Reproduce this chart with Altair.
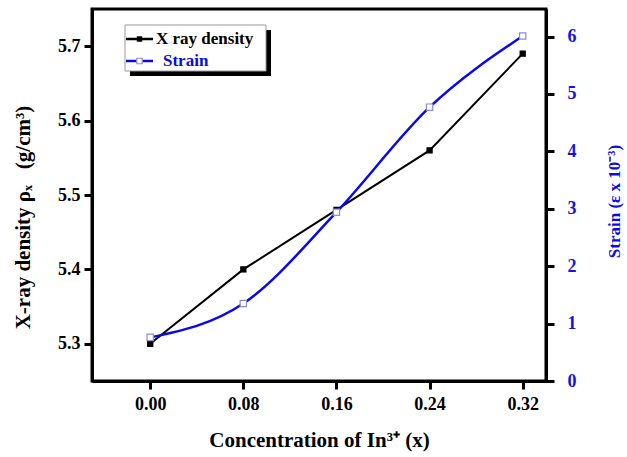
import altair as alt
import pandas as pd

conc = [0.00, 0.08, 0.16, 0.24, 0.32]
density = [5.30, 5.40, 5.48, 5.56, 5.69]
strain = [0.76, 1.35, 2.94, 4.77, 6.01]

x_ticks = [0.00, 0.08, 0.16, 0.24, 0.32]
density_ticks = [5.3, 5.4, 5.5, 5.6, 5.7]
strain_ticks = [0, 1, 2, 3, 4, 5, 6]

legend_labels = ["X ray density", "Strain"]

df = pd.DataFrame({"x": conc, "density": density, "strain": strain})

FONT = "Liberation Serif"
BLUE = "#0a0ae6"
LABEL_BLUE = "#1414e0"

xscale = alt.Scale(domain=[-0.05, 0.34], nice=False, zero=False)
xaxis = alt.Axis(values=x_ticks, format=".2f", title="Concentration of In³⁺ (x)",
                 labelPadding=6, titlePadding=16, titleFontSize=21)

base = alt.Chart(df)

dens_axis = alt.Axis(values=density_ticks, format=".1f", orient="left",
                     title="X-ray density ρₓ\u00a0\u00a0\u00a0(g/cm³)", titleFontSize=21,
                     labelPadding=4, titlePadding=24, titleY=208)
dscale = alt.Scale(domain=[5.25, 5.75], nice=False, zero=False)

dens_line = base.mark_line(color="black", strokeWidth=2).encode(
    x=alt.X("x:Q", scale=xscale, axis=xaxis),
    y=alt.Y("density:Q", scale=dscale, axis=dens_axis),
)
dens_pts = base.mark_point(shape="square", filled=True, color="black", size=40, opacity=1).encode(
    x=alt.X("x:Q", scale=xscale),
    y=alt.Y("density:Q", scale=dscale),
)

str_axis = alt.Axis(values=strain_ticks, format="d", orient="right",
                    title="Strain (ε x 10⁻³)", titleFontSize=17, titleColor=BLUE,
                    labelColor=LABEL_BLUE, labelPadding=13, titlePadding=47, titleAngle=270,
                    titleY=192)
sscale = alt.Scale(domain=[0, 6.48], nice=False, zero=False)

str_line = base.mark_line(color=BLUE, strokeWidth=2.5, interpolate="monotone").encode(
    x=alt.X("x:Q", scale=xscale),
    y=alt.Y("strain:Q", scale=sscale, axis=str_axis),
)
str_pts = base.mark_point(shape="square", filled=True, fill="white", stroke="#8c8cd0",
                          strokeWidth=1.2, size=40, opacity=1).encode(
    x=alt.X("x:Q", scale=xscale),
    y=alt.Y("strain:Q", scale=sscale),
)

dens_layer = alt.layer(dens_line, dens_pts)
str_layer = alt.layer(str_line, str_pts)

# legend drawn as decoration
one = alt.Chart(pd.DataFrame({"a": [0]}))
leg_shadow = one.mark_rect(color="black").encode(
    x=alt.value(38), x2=alt.value(179), y=alt.value(21), y2=alt.value(67))
leg_box = one.mark_rect(fill="white", stroke="#999999", strokeWidth=1).encode(
    x=alt.value(33), x2=alt.value(174), y=alt.value(16), y2=alt.value(62))
leg_line1 = one.mark_rule(color="black", strokeWidth=2.5).encode(
    x=alt.value(34), x2=alt.value(61), y=alt.value(30))
leg_pt1 = one.mark_point(shape="square", filled=True, color="black", size=30, opacity=1).encode(
    x=alt.value(47.5), y=alt.value(30))
leg_line2 = one.mark_rule(color=BLUE, strokeWidth=2.5).encode(
    x=alt.value(34), x2=alt.value(61), y=alt.value(52))
leg_pt2 = one.mark_point(shape="square", filled=True, fill="white", stroke="#8c8cd0",
                         strokeWidth=1.2, size=30, opacity=1).encode(
    x=alt.value(47.5), y=alt.value(52))
leg_t1 = one.mark_text(align="left", baseline="middle", font=FONT, fontWeight="bold",
                       fontSize=17, color="black").encode(
    x=alt.value(64), y=alt.value(30), text=alt.value(legend_labels[0]))
leg_t2 = one.mark_text(align="left", baseline="middle", font=FONT, fontWeight="bold",
                       fontSize=17, color=BLUE).encode(
    x=alt.value(71), y=alt.value(52), text=alt.value(legend_labels[1]))

legend = alt.layer(leg_shadow, leg_box, leg_line1, leg_pt1, leg_line2, leg_pt2, leg_t1, leg_t2)

chart = alt.layer(dens_layer, str_layer, legend).resolve_scale(y="independent").properties(
    width=454, height=372,
    autosize=alt.AutoSizeParams(type="none"),
    padding={"left": 92, "top": 9, "right": 81, "bottom": 76},
).configure_view(
    stroke="black", strokeWidth=3
).configure_axis(
    labelFont=FONT, titleFont=FONT, labelFontWeight="bold", titleFontWeight="bold",
    labelFontSize=18, labelColor="black", titleColor="black",
    domainColor="black", domainWidth=3, tickColor="black", tickWidth=3, tickSize=8,
    grid=False,
)

chart.save("out.html", embed_options={"renderer": "svg", "actions": False})
